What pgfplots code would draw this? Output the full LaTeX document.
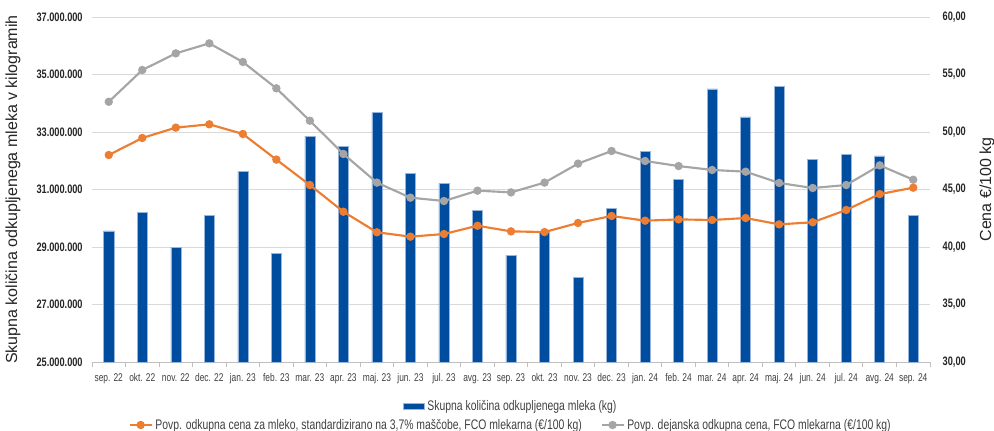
\documentclass[border=0pt]{standalone}
\usepackage{fontspec}
\setmainfont{Liberation Sans}
\newfontfamily\cond[FakeStretch=0.75]{Liberation Sans}
\usepackage{pgfplots}
\pgfplotsset{compat=1.18}

\definecolor{milkblue}{RGB}{0,77,160}
\definecolor{baredge}{RGB}{150,180,220}
\definecolor{priceorange}{RGB}{237,125,49}
\definecolor{pricegray}{RGB}{165,165,165}
\definecolor{gridgray}{RGB}{217,217,217}
\definecolor{axisgray}{RGB}{191,191,191}
\definecolor{txt}{RGB}{64,64,64}

% idx, purchased milk (kg), standardised price, actual price (EUR/100 kg)
\pgfplotstableread{
idx kg       cena  dejanska
0   29560000 48.00 52.63
1   30210000 49.48 55.39
2   29000000 50.38 56.84
3   30090000 50.67 57.71
4   31630000 49.83 56.09
5   28780000 47.60 53.80
6   32860000 45.39 50.98
7   32500000 43.07 48.09
8   33670000 41.28 45.60
9   31560000 40.90 44.29
10  31210000 41.13 44.00
11  30280000 41.85 44.90
12  28720000 41.36 44.75
13  29500000 41.30 45.60
14  27950000 42.09 47.25
15  30350000 42.70 48.35
16  32320000 42.29 47.48
17  31340000 42.40 47.04
18  34500000 42.35 46.70
19  33530000 42.52 46.55
20  34580000 41.97 45.57
21  32050000 42.15 45.13
22  32220000 43.22 45.39
23  32170000 44.60 47.10
24  30090000 45.16 45.85
}\data

\begin{document}
\begin{tikzpicture}
\path[use as bounding box] (-69pt,-51pt) rectangle (676.5pt,271.5pt);

\begin{axis}[
    scale only axis,
    width=628.5pt, height=258.75pt,
    xmin=-0.5, xmax=24.5,
    ymin=25000000, ymax=37000000,
    scaled y ticks=false,
    ybar, bar width=0.3,
    axis x line*=bottom, axis y line*=left,
    x axis line style={-, color=axisgray, line width=0.75pt},
    y axis line style={draw=none},
    ytick={25000000,27000000,29000000,31000000,33000000,35000000,37000000},
    yticklabels={25.000.000,27.000.000,29.000.000,31.000.000,33.000.000,35.000.000,37.000.000},
    xtick={0,...,24},
    xticklabels={sep. 22,okt. 22,nov. 22,dec. 22,jan. 23,feb. 23,mar. 23,apr. 23,maj. 23,jun. 23,jul. 23,avg. 23,sep. 23,okt. 23,nov. 23,dec. 23,jan. 24,feb. 24,mar. 24,apr. 24,maj. 24,jun. 24,jul. 24,avg. 24,sep. 24},
    minor xtick={-0.5,0.5,...,24.5},
    tick align=outside,
    major tick length=0pt,
    minor tick length=3.75pt,
    minor x tick style={color=axisgray, line width=0.75pt},
    ytick style={draw=none},
    ymajorgrids,
    grid style={color=gridgray, line width=0.75pt},
    yticklabel style={font=\cond\bfseries\fontsize{9.2}{10}\selectfont, text=black!85, xshift=-3.5pt},
    xticklabel style={font=\cond\fontsize{8.4}{10}\selectfont, text=txt, yshift=-5pt},
    ylabel={Skupna količina odkupljenega mleka v kilogramih},
    ylabel style={at={(axis description cs:-0.0943,0.5)}, anchor=center,
        font=\fontsize{12}{14}\selectfont, text=black!85},
    legend style={at={(axis description cs:0.5,-0.1275)}, anchor=center,
        draw=none, fill=none, font=\cond\fontsize{10.4}{12}\selectfont, text=txt},
    legend image code/.code={\fill[#1] (0pt,-2.25pt) rectangle (16pt,2.25pt);},
]
\addplot[fill=milkblue, draw=baredge, line width=0.4pt] table[x=idx, y=kg] {\data};
\addlegendentry{Skupna količina odkupljenega mleka (kg)}
\end{axis}

\begin{axis}[
    scale only axis,
    width=628.5pt, height=258.75pt,
    xmin=-0.5, xmax=24.5,
    ymin=30, ymax=60,
    axis x line=none,
    axis y line*=right,
    y axis line style={draw=none},
    ytick={30,35,40,45,50,55,60},
    yticklabels={{30,00},{35,00},{40,00},{45,00},{50,00},{55,00},{60,00}},
    ytick style={draw=none},
    major tick length=0pt,
    yticklabel style={font=\cond\bfseries\fontsize{9.2}{10}\selectfont, text=black!85, xshift=6pt},
    ylabel={Cena €/100 kg},
    ylabel style={at={(axis description cs:1.068,0.5)}, anchor=center,
        font=\fontsize{12}{14}\selectfont, text=black!85},
    legend style={at={(axis description cs:0.5,-0.1826)}, anchor=center,
        draw=none, fill=none, font=\cond\fontsize{10.4}{12}\selectfont, text=txt},
    legend columns=2,
    legend style={/tikz/every even column/.append style={column sep=12pt}},
    legend image code/.code={\draw[mark repeat=2, mark phase=2, #1]
        plot coordinates {(0pt,0pt) (8.25pt,0pt) (16.5pt,0pt)};},
]
\addplot[color=priceorange, line width=1.6pt, mark=*, mark size=2.3pt,
    mark options={solid}] table[x=idx, y=cena] {\data};
\addlegendentry{Povp. odkupna cena za mleko, standardizirano na 3,7\% maščobe, FCO mlekarna (€/100 kg)}
\addplot[color=pricegray, line width=1.6pt, mark=*, mark size=2.3pt,
    mark options={solid}] table[x=idx, y=dejanska] {\data};
\addlegendentry{Povp. dejanska odkupna cena, FCO mlekarna (€/100 kg)}
\end{axis}
\end{tikzpicture}
\end{document}
